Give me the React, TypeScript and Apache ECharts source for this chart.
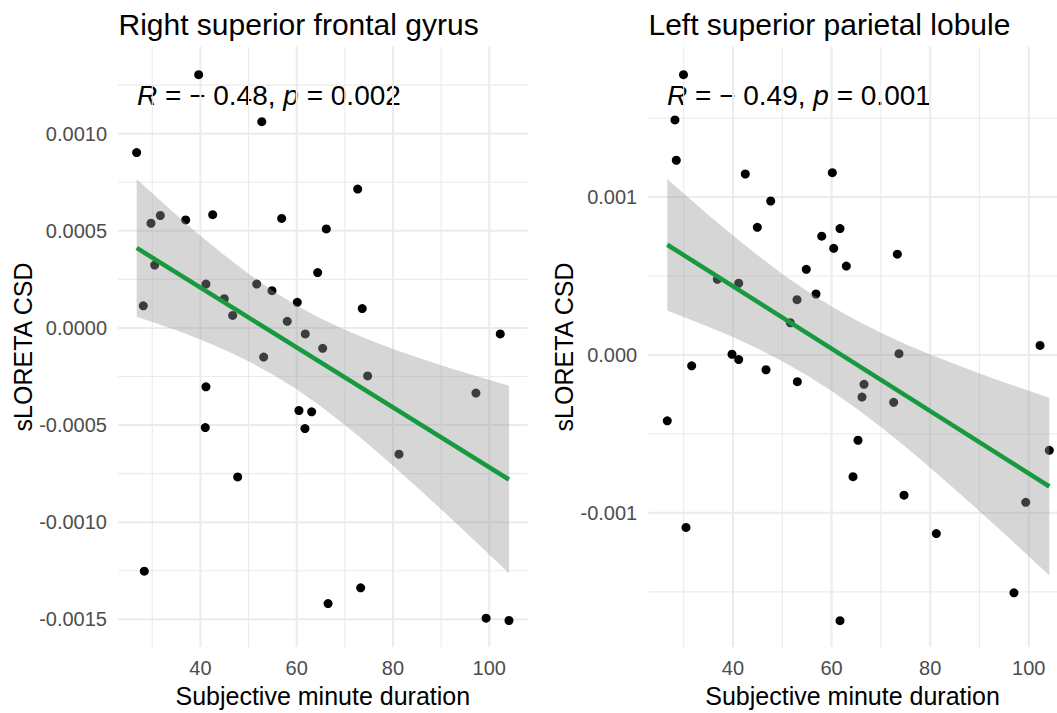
import React, { useEffect, useRef } from "react";
import * as echarts from "echarts";

const FONT = "'Liberation Sans', Arial, Helvetica, sans-serif";

const panelTitles = ["Right superior frontal gyrus", "Left superior parietal lobule"];
const corR = ["− 0.48", "− 0.49"];
const corP = ["0.002", "0.001"];
const xTitle = "Subjective minute duration";
const yTitle = "sLORETA CSD";

// Left panel: Right superior frontal gyrus
const leftX = [72.67, 42.55, 31.67, 29.73, 36.94, 56.88, 66.15, 64.36, 30.5, 41.15, 51.69, 54.87, 44.96, 60.12, 28.13, 46.7, 73.62, 58.04, 61.78, 102.29, 65.4, 53.14, 74.74, 41.15, 97.24, 60.47, 63.11, 41.01, 61.72, 81.25, 47.74, 28.34, 39.64, 52.75, 26.75, 66.52, 73.29, 99.35, 104.1];
const leftY = [0.000715, 0.000583, 0.000579, 0.000539, 0.000556, 0.000564, 0.00051, 0.000285, 0.000324, 0.000226, 0.000226, 0.000192, 0.000151, 0.000132, 0.000114, 0.0000645, 0.0001, 0.000034, -0.0000305, -0.0000305, -0.000105, -0.00015, -0.000247, -0.000303, -0.000335, -0.000425, -0.000432, -0.000513, -0.000518, -0.00065, -0.000767, -0.001252, 0.001304, 0.001062, 0.000903, -0.001419, -0.001338, -0.001494, -0.001506];
const leftBandX = [26.76, 30, 35, 40, 45, 50, 55, 60, 65, 70, 75, 80, 85, 90, 95, 100, 104.1];
const leftBandUpper = [0.000766, 0.000693, 0.000582, 0.000475, 0.000374, 0.000279, 0.000192, 0.000116, 0.0000493, -0.0000094, -0.000061, -0.000108, -0.000151, -0.000192, -0.000231, -0.000267, -0.000297];
const leftBandLower = [0.000058, 0.0000313, -0.000012, -0.0000593, -0.000112, -0.000171, -0.000239, -0.000316, -0.000403, -0.000499, -0.000601, -0.000709, -0.00082, -0.000933, -0.001049, -0.001166, -0.001263];
const leftFitX = [26.76, 104.1];
const leftFitY = [0.000412, -0.00078];

// Right panel: Left superior parietal lobule
const rightX = [42.5, 60.15, 47.65, 44.94, 61.71, 58.0, 60.43, 73.34, 62.99, 54.87, 36.82, 41.16, 56.84, 52.99, 51.63, 102.29, 73.68, 39.8, 41.16, 31.62, 46.7, 53.05, 66.58, 66.17, 72.6, 26.67, 65.36, 104.17, 64.35, 74.7, 99.39, 30.47, 81.25, 29.96, 28.23, 28.5, 61.71, 97.0];
const rightY = [0.001146, 0.001154, 0.000975, 0.000808, 0.0008, 0.000752, 0.000675, 0.000638, 0.000563, 0.000542, 0.000479, 0.000454, 0.000386, 0.00035, 0.000204, 0.0000606, 0.0000081, 0.0000044, -0.000029, -0.0000688, -0.0000938, -0.000169, -0.000186, -0.000267, -0.0003, -0.000417, -0.00054, -0.000604, -0.000771, -0.000888, -0.000933, -0.001092, -0.001131, 0.001775, 0.001488, 0.001233, -0.001683, -0.001506];
const rightBandX = [26.67, 30, 35, 40, 45, 50, 55, 60, 65, 70, 75, 80, 85, 90, 95, 100, 104.17];
const rightBandUpper = [0.001115, 0.001023, 0.000887, 0.000756, 0.000631, 0.000513, 0.000405, 0.000307, 0.000219, 0.00014, 0.000068, 0.0000027, -0.000058, -0.000117, -0.000173, -0.000227, -0.000271];
const rightBandLower = [0.000281, 0.000241, 0.000179, 0.000113, 0.000041, -0.0000392, -0.000128, -0.000228, -0.000337, -0.000456, -0.000582, -0.000714, -0.00085, -0.000989, -0.001131, -0.001274, -0.001396];
const rightFitX = [26.67, 104.17];
const rightFitY = [0.000698, -0.000833];

// Axis ticks / grid lines
const xMajor = [40, 60, 80, 100];
const xMinor = [30, 50, 70, 90];
const leftYMajor = [-0.0015, -0.001, -0.0005, 0, 0.0005, 0.001];
const leftYMinor = [-0.00125, -0.00075, -0.00025, 0.00025, 0.00075, 0.00125];
const rightYMajor = [-0.001, 0, 0.001];
const rightYMinor = [-0.0015, -0.0005, 0.0005, 0.0015];

const zip = (a: number[], b: number[]) => a.map((v, i) => [v, b[i]]);

function gridSeries(i: number, values: number[], vertical: boolean, width: number, anchor: number) {
  return {
    type: "custom", xAxisIndex: i, yAxisIndex: i, silent: true, z: 0,
    data: values.map((v) => (vertical ? [v, anchor] : [anchor, v])),
    renderItem: (params: any, api: any) => {
      const cs = params.coordSys;
      const p = api.coord([api.value(0), api.value(1)]);
      const shape = vertical
        ? { x1: p[0], y1: cs.y, x2: p[0], y2: cs.y + cs.height }
        : { x1: cs.x, y1: p[1], x2: cs.x + cs.width, y2: p[1] };
      return { type: "line", shape, style: { stroke: "#EBEBEB", lineWidth: width } };
    },
  };
}

function buildPanel(
  i: number,
  px: number[], py: number[],
  bx: number[], bu: number[], bl: number[],
  fx: number[], fy: number[],
  yMajor: number[], yMinor: number[]
) {
  return [
    gridSeries(i, xMinor, true, 1.1, 0),
    gridSeries(i, yMinor, false, 1.1, 60),
    gridSeries(i, xMajor, true, 2, 0),
    gridSeries(i, yMajor, false, 2, 60),
    {
      type: "scatter", xAxisIndex: i, yAxisIndex: i, data: zip(px, py), symbolSize: 9, z: 2,
      itemStyle: { color: "#000000", opacity: 1 },
    },
    {
      type: "custom", xAxisIndex: i, yAxisIndex: i, silent: true, z: 3,
      data: bx.map((x, k) => [x, bl[k], bu[k]]),
      encode: { x: 0, y: [1, 2] },
      renderItem: (params: any, api: any) => {
        if (params.dataIndex !== 0) return null;
        const pts: number[][] = [];
        for (let k = 0; k < bx.length; k++) pts.push(api.coord([bx[k], bu[k]]));
        for (let k = bx.length - 1; k >= 0; k--) pts.push(api.coord([bx[k], bl[k]]));
        return { type: "polygon", shape: { points: pts }, style: { fill: "#999999", opacity: 0.4 } };
      },
    },
    {
      type: "line", xAxisIndex: i, yAxisIndex: i, data: zip(fx, fy), symbol: "none", z: 4,
      lineStyle: { color: "#17993D", width: 4.5 },
    },
  ];
}

function xAxisCfg(i: number, min: number, max: number) {
  return {
    type: "value", gridIndex: i, min, max,
    axisLine: { show: false }, axisTick: { show: false, customValues: xMajor }, splitLine: { show: false },
    axisLabel: { customValues: xMajor, color: "#4D4D4D", fontSize: 20, margin: 11, fontFamily: FONT },
    name: xTitle, nameLocation: "middle", nameGap: 31,
    nameTextStyle: { fontSize: 25, color: "#000000", fontFamily: FONT },
  };
}

function yAxisCfg(i: number, min: number, max: number, ticks: number[], digits: number, gap: number) {
  return {
    type: "value", gridIndex: i, min, max,
    axisLine: { show: false }, axisTick: { show: false, customValues: ticks }, splitLine: { show: false },
    axisLabel: {
      customValues: ticks, color: "#4D4D4D", fontSize: 20, margin: 11, fontFamily: FONT,
      formatter: (v: number) => v.toFixed(digits),
    },
    name: yTitle, nameLocation: "middle", nameGap: gap,
    nameTextStyle: { fontSize: 25, color: "#000000", fontFamily: FONT },
  };
}

function textEl(text: string, x: number, y: number, size: number, rich?: any) {
  return {
    type: "text", x, y, silent: true,
    style: {
      text, fontSize: size, fontFamily: FONT, fill: "#000000",
      align: "left", textAlign: "left", verticalAlign: "middle", textVerticalAlign: "middle",
      rich,
    },
  };
}

export default function App() {
  const ref = useRef<HTMLDivElement>(null);
  useEffect(() => {
    const chart = echarts.init(ref.current!, null, { renderer: "svg" });
    const italic = { i: { fontStyle: "italic", fontSize: 28, fontFamily: FONT, fill: "#000000" } };
    const option: any = {
      animation: false,
      backgroundColor: "#ffffff",
      grid: [
        { left: 118, top: 46.7, width: 409.6, height: 608.3 },
        { left: 648.2, top: 46.7, right: 0, height: 608.3 },
      ],
      xAxis: [xAxisCfg(0, 22.88, 107.97), xAxisCfg(1, 22.8, 105.73)],
      yAxis: [
        yAxisCfg(0, -0.001643, 0.001448, leftYMajor, 4, 80),
        yAxisCfg(1, -0.00185, 0.001952, rightYMajor, 3, 71),
      ],
      series: [
        ...buildPanel(0, leftX, leftY, leftBandX, leftBandUpper, leftBandLower, leftFitX, leftFitY, leftYMajor, leftYMinor),
        ...buildPanel(1, rightX, rightY, rightBandX, rightBandUpper, rightBandLower, rightFitX, rightFitY, rightYMajor, rightYMinor),
      ],
      graphic: [
        textEl(panelTitles[0], 118.5, 24.6, 30),
        textEl(panelTitles[1], 648.5, 24.6, 30),
        textEl(`{i|R} = ${corR[0]}, {i|p} = ${corP[0]}`, 137, 95.3, 28, italic),
        textEl(`{i|R} = ${corR[1]}, {i|p} = ${corP[1]}`, 667, 95.3, 28, italic),
      ],
    };
    chart.setOption(option);
    return () => chart.dispose();
  }, []);
  return (
    <div
      ref={ref}
      style={{ position: "absolute", left: 0, top: 0, width: 1057, height: 713, background: "#ffffff" }}
    />
  );
}
